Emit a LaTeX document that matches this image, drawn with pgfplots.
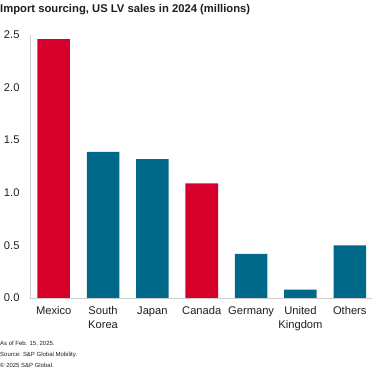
\documentclass[border=0pt]{standalone}
\usepackage{pgfplots}
\pgfplotsset{compat=1.18}
\usepackage{fontspec}
\setmainfont{Liberation Sans}
\definecolor{spred}{RGB}{214,0,42}
\definecolor{spteal}{RGB}{0,104,137}
\definecolor{axgray}{RGB}{205,205,205}
\definecolor{txt}{RGB}{30,30,30}
\begin{document}
\begin{tikzpicture}
\useasboundingbox (0,0) rectangle (377bp,369bp);
\begin{axis}[
  at={(30bp,71bp)}, anchor=south west,
  scale only axis, width=342bp, height=263bp,
  xmin=-0.48, xmax=6.45, ymin=0, ymax=2.5,
  axis x line*=bottom, axis y line*=left,
  axis line style={draw=axgray, line width=0.8pt, -},
  xtick={0,1,2,3,4,5,6},
  xticklabels={Mexico, South\\Korea, Japan, Canada, Germany, United\\Kingdom, Others},
  xticklabel style={align=center, text=txt, font=\fontsize{11.2}{13.5}\selectfont, yshift=-5bp},
  ytick={0,0.5,1,1.5,2,2.5},
  yticklabel style={text=txt, font=\fontsize{11.2}{13.5}\selectfont, xshift=-7bp},
  /pgf/number format/assume math mode=true,
  /pgf/number format/fixed, /pgf/number format/fixed zerofill, /pgf/number format/precision=1,
  major tick length=0pt,
  bar width=0.66,
  ybar, bar shift=0pt,
  clip=false,
]
\addplot[fill=spred, draw=none] coordinates {(0,2.46) (3,1.09)};
\addplot[fill=spteal, draw=none] coordinates {(1,1.39) (2,1.32) (4,0.42) (5,0.08) (6,0.50)};
\end{axis}
\node[anchor=base west, inner sep=0pt, text=txt, font=\bfseries\fontsize{11.3}{13}\selectfont] at (0bp,356bp) {Import sourcing, US LV sales in 2024 (millions)};
\node[anchor=base west, inner sep=0pt, text=txt, font=\fontsize{6}{7}\selectfont] at (0bp,24bp) {As of Feb. 15, 2025.};
\node[anchor=base west, inner sep=0pt, text=txt, font=\fontsize{6}{7}\selectfont] at (0bp,13bp) {Source: S\&P Global Mobility.};
\node[anchor=base west, inner sep=0pt, text=txt, font=\fontsize{6}{7}\selectfont] at (0bp,2bp) {\textcopyright{} 2025 S\&P Global.};
\end{tikzpicture}
\end{document}
